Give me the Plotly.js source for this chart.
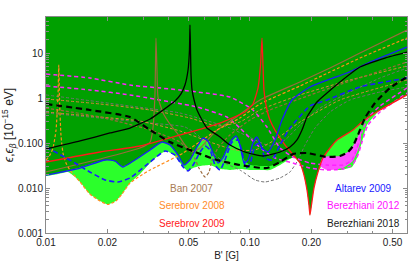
<!DOCTYPE html>
<html><head><meta charset="utf-8">
<script src="https://cdn.plot.ly/plotly-3.0.1.min.js"></script>
<style>html,body{margin:0;padding:0;background:#fff}#c{width:409px;height:265px}</style>
</head><body><div id="c"></div>
<script>
// ---- data (B' in gauss, epsilon in 1e-15 eV) ----
// region boundaries
const regionDarkB   = [.0100,.01171,.0147,.0184,.0206,.0220,.0236,.0252,.0273,.0324,.0370,.0405,.0444,.0475,.0508,.0550,.0588,.0622,.0659,.0697,.0737,.0798,.0854,.0893,.0935,.1000,.1119,.1253,.1403,.1536,.1662,.1759,.1840,.1903,.1946,.1968,.2002,.2059,.2154,.2279,.2467,.2670,.3198,.3540,.4339,.5885];
const regionDarkEps = [.0194,.0221,.0285,.0398,.0419,.0378,.0308,.0324,.0419,.0700,.105,.0903,.0541,.0324,.0419,.0815,.123,.105,.0599,.0378,.0489,.100,.136,.0858,.0419,.0324,.0308,.0308,.0359,.0441,.0489,.0359,.0194,.00903,.00419,.00251,.00419,.0100,.0227,.0464,.0774,.117,.194,.293,.541,1.17];
const regionLightB   = [.0100,.01145,.01282,.01372,.0147,.0164,.0184,.0201,.0220,.0236,.0258,.0289,.0324,.0362,.0392,.0429,.0470,.0497,.0526,.0569,.0637,.0713,.0798,.0893,.1000,.1119,.1253,.1403,.1536,.1662,.1759,.1840,.1903,.1946,.1968,.2002,.2059,.2154,.2254,.2467,.2762,.3162,.3346,.3540,.3746,.4339,.5885];
const regionLightEps = [.0185,.0205,.0227,.0185,.0136,.00736,.00514,.0043,.00514,.00736,.0129,.0205,.0359,.0570,.0664,.0514,.0293,.0239,.0278,.0308,.0324,.0264,.0251,.0264,.0251,.0251,.0251,.0324,.0419,.0489,.0359,.0194,.00903,.00419,.00251,.00419,.0100,.0227,.0308,.0278,.0251,.0293,.0464,.105,.251,.541,1.17];
const regionPinkB   = [.2279,.2762,.3023,.3198,.3384,.3500,.3500,.3384,.3198,.2857,.2385,.2203];
const regionPinkEps = [.0489,.0514,.0631,.0858,.140,.200,.120,.0700,.0400,.0280,.0251,.0308];

// curves
const banSolidB   = [.0100,.0184,.0289,.0324,.03345,.0342,.0346,.0350,.0354,.0375,.0405,.0439,.0480,.0520,.0569,.0674,.0844,.1119,.1759,.2467,.3461,.5885];
const banSolidEps = [.0227,.0441,.0774,.105,.215,1.17,21.5,4.19,1.05,.464,.264,.167,.0903,.0631,.0774,.176,.359,.903,2.27,4.64,10.0,32.4];
const banDashB   = [.0100,.0184,.0324,.0454,.0526,.0562,.0602,.0630,.0651,.0697,.0798,.1000,.1253,.2467,.5885];
const banDashEps = [.599,.378,.194,.105,.0541,.0278,.0176,.0227,.0419,.0774,.151,.324,.541,1.67,6.31];

const ser08B   = [.0100,.01046,.01082,.0112,.01145,.01155,.01165,.01184,.01211,.01253,.0131,.0147,.0164,.0184,.0201,.0220,.0236,.0258,.0289,.0324,.0470,.0689,.0893,.1119,.1759,.2467,.3461,.5885];
const ser08Eps = [.0419,.0541,.0774,.194,1.17,5.41,.903,.151,.0599,.0359,.0251,.0136,.00736,.00514,.0043,.00514,.00736,.0129,.0185,.0251,.0599,.194,.359,.736,1.85,3.78,7.74,21.5];
const ser08bB   = [.0100,.0184,.0324,.0508,.0689,.0893,.1119,.1759,.3092,.5885];
const ser08bEps = [.950,.736,.541,.359,.239,.293,.541,1.17,2.51,5.14];
const ser08cB   = [.0100,.0184,.0289,.0454,.0637,.0844,.1058,.1326,.1759,.2762,.5885];
const ser08cEps = [.489,.378,.308,.185,.105,.0700,.0700,.117,.293,.903,2.51];

const ser09B   = [.0100,.0184,.0289,.0454,.0713,.0945,.1034,.1095,.1126,.1145,.1158,.1171,.1198,.1253,.1326,.1485,.1662,.1759,.1840,.1903,.1946,.1968,.2002,.2059,.2154,.2279,.2467,.2670,.3198,.3540,.4339,.5885];
const ser09Eps = [.0378,.0631,.0858,.151,.278,.489,.736,1.67,5.41,21.5,5.41,1.51,.699,.324,.194,.0903,.0489,.0359,.0194,.00903,.00419,.00251,.00419,.0100,.0227,.0464,.0774,.117,.194,.293,.541,1.17];

const alt09B   = [.0100,.0147,.0195,.0218,.0238,.0273,.0324,.0370,.0405,.0444,.0475,.0508,.0550,.0588,.0622,.0659,.0697,.0737,.0798,.0854,.0893,.0935,.0978,.1034,.1082,.1145,.1225,.1326,.1435,.1607,.1968,.2467,.2989,.3875,.5885];
const alt09Eps = [.0194,.0278,.0419,.0398,.0293,.0419,.0700,.105,.0903,.0541,.0324,.0419,.0815,.129,.111,.0599,.0359,.0464,.105,.143,.0903,.0359,.0419,.100,.136,.0774,.0631,.117,.324,.903,1.76,2.64,3.59,6.31,13.6];
const alt09dB   = [.0100,.0131,.0164,.0195,.0225,.0258,.0324,.0383,.0429,.0470,.0497,.0526,.0569,.0602,.0637,.0674,.0713,.0754,.0816,.0874,.0914,.0956,.1000,.1058,.1119,.1184,.1282,.1403,.1571,.1968,.2385,.3461,.5885];
const alt09dEps = [.0815,.0419,.0227,.0151,.0136,.0167,.0378,.0664,.0541,.0293,.0239,.0324,.0631,.0858,.0700,.0324,.0251,.0419,.105,.117,.0631,.0278,.0341,.0858,.100,.0464,.0419,.0903,.215,.664,.903,1.76,2.78];

const ber12aB   = [.0100,.0164,.0258,.0454,.0798,.1034,.1211,.1403,.1625,.1968,.2385,.2857,.3162,.3346,.3540,.3788,.4339,.5885];
const ber12aEps = [3.41,2.78,1.94,1.51,1.05,.541,.227,.0774,.0489,.0359,.0324,.0324,.0419,.0774,.176,.359,.664,1.67];
const ber12bB   = [.0100,.0164,.0258,.0550,.0771,.0893,.1058,.1158,.1326,.1625,.1968,.2385,.2857,.3198,.3384,.3540,.3788,.4339,.5885];
const ber12bEps = [1.85,1.51,1.17,.631,.378,.215,.100,.0700,.0464,.0359,.0278,.0251,.0264,.0341,.0541,.105,.251,.489,1.29];

const ber18B   = [.0100,.0147,.0206,.0258,.0324,.0375,.0429,.0459,.0480,.0497,.0505,.0508,.0511,.0514,.0520,.0532,.0550,.0582,.0615,.0713,.0798,.0945,.1158,.1403,.1571,.1700,.1799,.1903,.2130,.2385,.2762,.3461,.4590,.5885];
const ber18Eps = [.0736,.111,.167,.215,.341,.541,.858,1.23,1.94,4.19,11.7,41.9,11.7,3.24,1.51,.903,.541,.324,.215,.136,.0903,.0631,.0514,.0631,.0815,.117,.194,.378,.815,1.29,2.27,4.89,7.74,10.5];
const ber18dB   = [.0100,.0164,.0258,.0324,.0405,.0538,.0689,.0893,.1211,.1403,.1625,.1903,.2385,.2762,.3023,.3198,.3384,.3662,.4100,.4857,.5885];
const ber18dEps = [.736,.541,.378,.194,.105,.0631,.0419,.0324,.0278,.0378,.0570,.0599,.0489,.0514,.0631,.0858,.151,.359,.774,1.67,2.93];

const grayAB   = [.0100,.0184,.0324,.0480,.0569,.0637,.0754,.0893,.1058,.1184,.1403,.1571,.1719,.1861,.2083,.2467,.3092,.4339,.5885];
const grayAEps = [.464,.359,.278,.227,.136,.0700,.0359,.0251,.0151,.0136,.0167,.0227,.0419,.0903,.215,.489,.903,1.36,1.76];
const grayBB   = [.0100,.0258,.0454,.0798,.1058,.1253,.1485,.1759,.2203,.3092,.4339,.5885];
const grayBEps = [1.17,.664,.464,.215,.117,.0858,.117,.251,.599,1.36,2.78,4.64];

const labels = ['Ban 2007','Serebrov 2008','Serebrov 2009','Altarev 2009','Berezhiani 2012','Berezhiani 2018'];
const xTickVals = [0.01,0.02,0.05,0.1,0.2,0.5];
const xTickText = ['0.01','0.02','0.05','0.10','0.20','0.50'];
const yTickVals = [0.001,0.01,0.1,1,10];
const yTickText = ['0.001','0.010','0.100','1','10'];

// ---- styles ----
const C = {dark:'#00a000', light:'#2bff2b', pink:'#ff4dff', ban:'#9a6a3c', banTxt:'#a87c55', orange:'#ff8c1a', orange2:'#d9863a', red:'#ff1a1a', blue:'#1a1aff', mag:'#ff22ff', gray:'#707070'};

function region(bx, ey, color){
  const n = bx.length;
  return {x:[...bx, 0.8, 0.8, 0.008, 0.008, bx[0]], y:[...ey, ey[n-1], 1e4, 1e4, ey[0], ey[0]],
    mode:'lines', fill:'toself', fillcolor:color, line:{width:0, shape:'spline', smoothing:0.4}, hoverinfo:'skip'};
}
function poly(bx, ey, color){
  return {x:[...bx, bx[0]], y:[...ey, ey[0]], mode:'lines', fill:'toself', fillcolor:color,
    line:{width:0, shape:'spline', smoothing:0.4}, hoverinfo:'skip'};
}
function curve(bx, ey, color, width, dash){
  return {x:bx, y:ey, mode:'lines', line:{color:color, width:width, dash:dash||'solid', shape:'spline', smoothing:0.5}, hoverinfo:'skip'};
}

const traces = [
  region(regionLightB, regionLightEps, C.light),
  region(regionDarkB, regionDarkEps, C.dark),
  poly(regionPinkB, regionPinkEps, C.pink),
  curve(grayAB, grayAEps, C.gray, 1, '3px,2px'),
  curve(grayBB, grayBEps, C.gray, 1, '3px,2px'),
  curve(ser08bB, ser08bEps, C.orange2, 1, '3px,2px'),
  curve(ser08cB, ser08cEps, C.orange2, 1, '3px,2px'),
  curve(banDashB, banDashEps, C.ban, 1.2, '3px,2px'),
  curve(ber12aB, ber12aEps, C.mag, 1.5, '4px,3px'),
  curve(ber12bB, ber12bEps, C.mag, 1.5, '4px,3px'),
  curve(banSolidB, banSolidEps, C.ban, 1.2),
  curve(ser08B, ser08Eps, C.orange, 1.2, '3px,2px'),
  curve(ser09B, ser09Eps, C.red, 1.3),
  curve(alt09dB, alt09dEps, C.blue, 1.6, '5px,3px'),
  curve(alt09B, alt09Eps, C.blue, 1.3),
  curve(ber18B, ber18Eps, '#000', 1.3),
  curve(ber18dB, ber18dEps, '#000', 2.2, '6px,4px')
];

const font = 'Liberation Sans, Arial, sans-serif';
const ann = [
  {x:Math.log10(0.0517), y:Math.log10(0.0100), text:labels[0], color:C.banTxt},
  {x:Math.log10(0.0517), y:Math.log10(0.0040), text:labels[1], color:'#ff8c2a'},
  {x:Math.log10(0.0517), y:Math.log10(0.00162), text:labels[2], color:'#ff2020'},
  {x:Math.log10(0.362), y:Math.log10(0.0100), text:labels[3], color:'#2020ff'},
  {x:Math.log10(0.362), y:Math.log10(0.0040), text:labels[4], color:'#ff10ff'},
  {x:Math.log10(0.362), y:Math.log10(0.00162), text:labels[5], color:'#1a1a1a'}
].map(a => ({x:a.x, y:a.y, xref:'x', yref:'y', text:a.text, showarrow:false,
  font:{family:font, size:10, color:a.color}, xanchor:'center', yanchor:'middle'}));

const axisCommon = {type:'log', showgrid:false, zeroline:false, showline:true, linecolor:'#8a8a8a', linewidth:1,
  mirror:'allticks', ticks:'inside', ticklen:4, tickcolor:'#8a8a8a', tickwidth:1,
  tickfont:{family:font, size:10, color:'#222'}, tickmode:'array'};

const layout = {
  width:409, height:265, margin:{l:46, r:2, t:17, b:32},
  paper_bgcolor:'#fff', plot_bgcolor:'#fff', showlegend:false,
  font:{family:font, size:10, color:'#222'},
  xaxis:Object.assign({}, axisCommon, {range:[-2, Math.log10(0.5885)], tickvals:xTickVals, ticktext:xTickText,
    minor:{ticks:'inside', ticklen:2.5, tickcolor:'#8a8a8a', tickmode:'array', tickvals:[0.03,0.04,0.06,0.07,0.08,0.09,0.3,0.4]},
    title:{text:"B' [G]", font:{family:font, size:10, color:'#222'}, standoff:4}}),
  yaxis:Object.assign({}, axisCommon, {range:[-3, 1.8], tickvals:yTickVals, ticktext:yTickText,
    minor:{ticks:'inside', ticklen:2.5, tickcolor:'#8a8a8a', tickmode:'array',
      tickvals:[0.002,0.003,0.004,0.005,0.006,0.007,0.008,0.009,0.02,0.03,0.04,0.05,0.06,0.07,0.08,0.09,0.2,0.3,0.4,0.5,0.6,0.7,0.8,0.9,2,3,4,5,6,7,8,9,20,30,40,50]},
    title:{text:'<i>ϵ</i>,<i>ϵ</i><sub><i>β</i></sub> [10<sup>−15</sup> eV]', font:{family:font, size:12, color:'#222'}, standoff:2}}),
  annotations:ann
};

Plotly.newPlot('c', traces, layout, {staticPlot:true, displayModeBar:false});
</script>
</body></html>
